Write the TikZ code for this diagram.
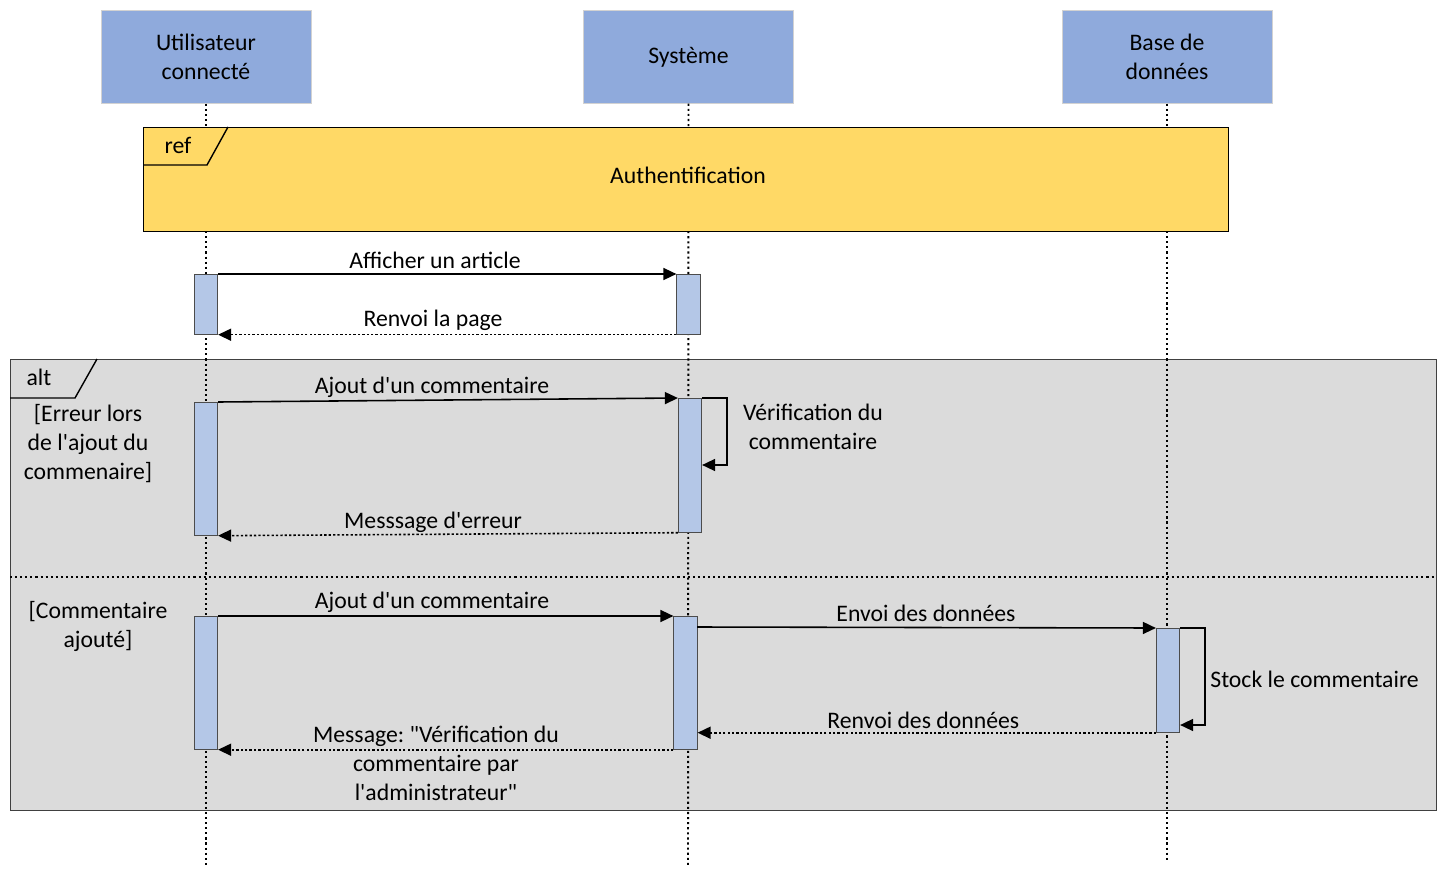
\documentclass[tikz,border=0pt]{standalone}
\usepackage{fontspec}
\setmainfont{Carlito}[Ligatures=TeXOff]
\usetikzlibrary{arrows.meta}
\definecolor{acteur}{HTML}{8FAADC}
\definecolor{activ}{HTML}{B4C7E7}
\definecolor{refjaune}{HTML}{FFD966}
\definecolor{altgris}{HTML}{DBDBDB}
\tikzset{
  texte/.style={font=\fontsize{13.5}{16.5}\selectfont\frenchspacing, align=center, inner sep=0pt},
  acteur/.style={texte, draw=gray!35, fill=acteur, minimum width=4.2cm, minimum height=1.86cm, anchor=north},
  vie/.style={draw=black, line width=1.1pt, dash pattern=on 1.2pt off 1.7pt},
  barre/.style={draw=black!70, fill=activ, minimum width=0.47cm, minimum height=#1*0.02cm, inner sep=0pt, anchor=north},
  msg/.style={draw=black, line width=0.9pt, -{Triangle[length=0.26cm,width=0.24cm]}},
  retour/.style={msg, dash pattern=on 1.3pt off 1.2pt},
  cadre/.style={draw=black, thick, anchor=north west, inner sep=0pt}
}
\begin{document}
\begin{tikzpicture}[x=0.02cm, y=-0.02cm]
        %diagramme de séquence : ajout d'un commentaire
        \useasboundingbox (0,0) rectangle (1447,879);

        \node[cadre, draw=black!75, fill=altgris, minimum width=28.52cm, minimum height=9.02cm] (alt) at (10,359) {};
        \draw[thick] (10,398) -- (75,398) -- (97,359);
        \draw[vie, line width=0.9pt] (10,577) -- (1436,577);

        \coordinate (UFin) at (206,866);
        \coordinate (SFin) at (688,866);
        \coordinate (BFin) at (1167,860);

        \node[acteur] (U) at (206,10) {Utilisateur\\connecté};
        \node[acteur] (S) at (688.5,10) {Système};
        \node[acteur] (B) at (1167,10) {Base de\\données};

        \draw[vie] (U.south) -- (UFin);
        \draw[vie] (S.south) -- (SFin);
        \draw[vie] (B.south) -- (BFin);

        \node[cadre, fill=refjaune, minimum width=21.7cm, minimum height=2.08cm] (ref) at (143,127) {};
        \draw[thick] (143,165) -- (207,165) -- (228,127);

        \node[barre=60] (u1) at (206,274) {};
        \node[barre=60] (s1) at (688.5,274) {};
        \node[barre=133] (u2) at (206,402) {};
        \node[barre=134] (s2) at (690,398) {};
        \node[barre=133] (u3) at (206,616) {};
        \node[barre=133] (s3) at (685.5,616) {};
        \node[barre=104] (b1) at (1168,628) {};
        \coordinate (Envoi) at (697,627);

        \draw[msg] (u1.north east) -- (s1.north west);
        \draw[retour] (s1.south west) -- (u1.south east);
        \draw[msg] (u2.north east) -- (s2.north west);
        \draw[msg] (s2.north east) -- ++(25,0) -- ++(0,67) -- ++(-25,0);
        \draw[retour] (s2.south west) -- (u2.south east);
        \draw[msg] (u3.north east) -- (s3.north west);
        \draw[msg] (Envoi) -- (b1.north west);
        \draw[msg] (b1.north east) -- ++(25,0) -- ++(0,97) -- ++(-25,0);
        \draw[retour] (b1.south west) -- (s3.east |- b1.south west);
        \draw[retour] (s3.south west) -- (u3.south east);

        \foreach \nom/\px/\py/\txt in
        {   tref/178/145/ref,
            tauth/688/175/Authentification,
            talt/39/377/alt,
            tafficher/435/260/Afficher un article,
            trenvoi/433/320/Renvoi la page,
            tajout1/432/387/Ajout d'un commentaire,
            terreur/433/522/Messsage d'erreur,
            tajout2/432/602/Ajout d'un commentaire,
            tenvoi/926/613/Envoi des données,
            trenvdon/926/720/Renvoi des données
        }
        {
            \node[texte] (\nom) at (\px,\py) {\txt};
        }
        \node[texte] (tverif) at (813,427) {Vérification du\\commentaire};
        \node[texte] (tgarde1) at (88,444) {[Erreur lors\\de l'ajout du\\commenaire]};
        \node[texte] (tgarde2) at (98,626) {[Commentaire\\ajouté]};
        \node[texte] (tmsg) at (436,763) {Message: "Vérification du\\commentaire par\\l'administrateur"};
        \node[texte, anchor=west] (tstock) at (1210,679) {Stock le commentaire};
\end{tikzpicture}
\end{document}
